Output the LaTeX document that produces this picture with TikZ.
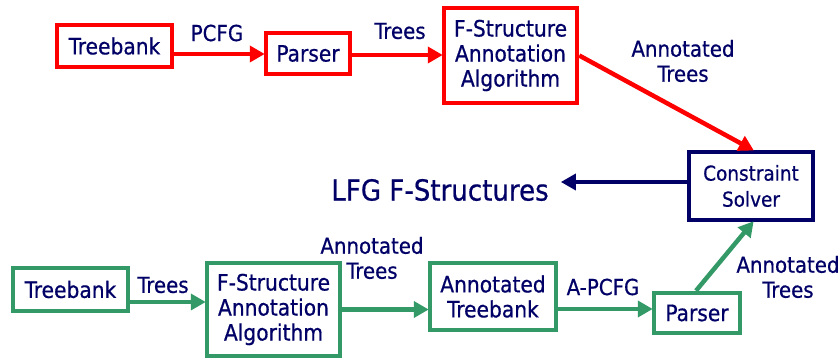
\documentclass[tikz,border=0pt]{standalone}
\usepackage{fontspec}
\setmainfont{DejaVu Sans Condensed}[FakeBold=0.6]
\usetikzlibrary{arrows.meta}
\definecolor{navy}{RGB}{0,0,102}
\definecolor{rred}{RGB}{255,0,0}
\definecolor{ggreen}{RGB}{51,153,102}
\tikzset{
  box/.style={draw, line width=4.5pt, fill=white, inner sep=0pt, align=center, text=navy,
     font=\fontsize{22.5}{25}\selectfont},
  redbox/.style={box, draw=rred},
  greenbox/.style={box, draw=ggreen},
  navybox/.style={box, draw=navy, line width=4pt, font=\fontsize{20.5}{26}\selectfont},
  lbl/.style={text=navy, align=center, inner sep=0pt, font=\fontsize{22}{25}\selectfont},
  arr/.style={line width=4.5pt, -{Triangle[length=15pt,width=16pt]}, shorten >=-1pt},
  redarr/.style={arr, draw=rred},
  greenarr/.style={arr, draw=ggreen},
  navyarr/.style={arr, draw=navy, line width=3.5pt},
}
\begin{document}
\begin{tikzpicture}[x=1pt,y=-1pt]
\useasboundingbox (0,0) rectangle (839,358);
% red row
\node[redbox, minimum width=115pt, minimum height=42pt] (rtb) at (114.5,46) {Treebank};
\node[redbox, minimum width=84pt, minimum height=41pt] (rparser) at (308,53.5) {Parser};
\node[redbox, minimum width=133pt, minimum height=95pt] (rfsaa) at (510.5,55.5) {F-Structure\\Annotation\\Algorithm};
\node[navybox, minimum width=124pt, minimum height=68pt] (solver) at (751,186) {Constraint\\Solver};
\node[text=navy, inner sep=0pt, font=\fontsize{29}{32}\selectfont] (lfg) at (440,190) {LFG F-Structures};
% green row
\node[greenbox, minimum width=115pt, minimum height=43pt] (gtb) at (70.5,289.5) {Treebank};
\node[greenbox, minimum width=133pt, minimum height=93pt] (gfsaa) at (273.5,309.5) {F-Structure\\Annotation\\Algorithm};
\node[greenbox, minimum width=126pt, minimum height=67pt] (gat) at (493,296.5) {Annotated\\Treebank};
\node[greenbox, minimum width=86pt, minimum height=40pt] (gparser) at (697,313) {Parser};
% labels
\node[lbl] (l1) at (217,33) {PCFG};
\node[lbl] (l2) at (400,31) {Trees};
\node[lbl] (l3) at (683,61) {Annotated\\Trees};
\node[lbl] (l4) at (163,285) {Trees};
\node[lbl] (l5) at (372,258) {Annotated\\Trees};
\node[lbl] (l6) at (603,287) {A-PCFG};
\node[lbl] (l7) at (788,277) {Annotated\\Trees};
% connectors
\draw[redarr] ([yshift=-8pt]rtb.east) -- ([yshift=-8pt]rtb.east -| rparser.west);
\draw[redarr] ([yshift=-1.5pt]rparser.east) -- ([yshift=-1.5pt]rparser.east -| rfsaa.west);
\draw[redarr] (rfsaa.east) -- ([xshift=2pt]solver.north);
\draw[navyarr] ([yshift=4pt]solver.west) -- ([yshift=4pt,xshift=13pt]solver.west -| lfg.east);
\draw[greenarr] ([yshift=-12.5pt]gtb.east) -- ([yshift=-12.5pt]gtb.east -| gfsaa.west);
\draw[greenarr] (gfsaa.east) -- (gfsaa.east -| gat.west);
\draw[greenarr] ([yshift=-12.5pt]gat.east) -- ([yshift=-12.5pt]gat.east -| gparser.west);
\draw[greenarr] ([xshift=-1pt]gparser.north) -- ([xshift=2pt]solver.south);
\end{tikzpicture}
\end{document}
